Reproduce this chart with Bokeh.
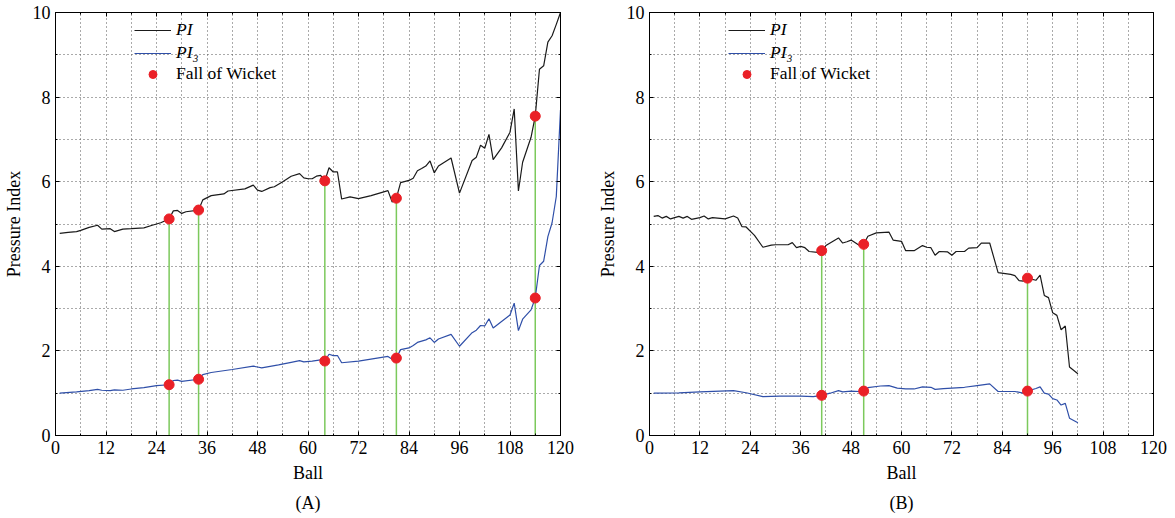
from bokeh.plotting import figure
from bokeh.models import (FixedTicker, Legend, LegendItem, LinearAxis, Title,
                          Range1d, ColumnDataSource)
from bokeh.layouts import row
from bokeh.embed import file_html
from bokeh.resources import INLINE

# ---------------- data ----------------
a_pi_ball = [1, 3, 5, 6, 8, 10, 11, 13, 14, 16, 18, 21, 23, 25, 27, 28, 29, 30, 31, 34,
             35, 37, 40, 41, 45, 47, 48, 49, 51, 52, 54, 56, 58, 59, 60, 61, 62, 63, 64,
             65, 66, 67, 68, 70, 72, 75, 79, 80, 81, 82, 84, 85, 86, 87, 88, 89, 90, 91,
             94, 96, 99, 100, 101, 102, 103, 104, 106, 108, 109, 110, 111, 113, 114, 115,
             116, 117, 118, 119, 120]
a_pi_val = [4.78, 4.80, 4.82, 4.85, 4.92, 4.97, 4.88, 4.89, 4.82, 4.88, 4.89, 4.91, 4.97,
            5.03, 5.12, 5.31, 5.32, 5.25, 5.29, 5.33, 5.57, 5.67, 5.71, 5.78, 5.83, 5.92,
            5.80, 5.77, 5.86, 5.88, 6.00, 6.13, 6.19, 6.09, 6.07, 6.07, 6.13, 6.15, 6.02,
            6.33, 6.23, 6.23, 5.59, 5.64, 5.60, 5.67, 5.79, 5.52, 5.61, 5.98, 6.03, 6.08,
            6.26, 6.31, 6.37, 6.49, 6.21, 6.37, 6.56, 5.73, 6.50, 6.58, 6.86, 6.79, 7.12,
            6.52, 6.80, 7.17, 7.72, 5.78, 6.46, 7.05, 7.55, 8.66, 8.74, 9.30, 9.45, 9.72,
            10.0]

a_pi3_ball = [1, 5, 8, 10, 11, 13, 14, 16, 18, 21, 24, 27, 28, 29, 30, 34, 35, 37, 42, 47,
              48, 49, 53, 56, 58, 59, 61, 63, 64, 65, 66, 67, 68, 72, 79, 80, 81, 82, 84,
              85, 86, 88, 89, 90, 91, 94, 96, 99, 100, 101, 102, 103, 104, 108, 109, 110,
              111, 113, 114, 115, 116, 117, 118, 119, 120]
a_pi3_val = [1.00, 1.03, 1.06, 1.09, 1.07, 1.06, 1.08, 1.07, 1.10, 1.13, 1.18, 1.20, 1.30,
             1.31, 1.28, 1.33, 1.44, 1.49, 1.56, 1.64, 1.62, 1.60, 1.67, 1.73, 1.77, 1.74,
             1.76, 1.79, 1.76, 1.92, 1.89, 1.89, 1.72, 1.76, 1.87, 1.80, 1.83, 2.03, 2.07,
             2.13, 2.20, 2.26, 2.31, 2.20, 2.28, 2.39, 2.11, 2.43, 2.49, 2.60, 2.59, 2.76,
             2.54, 2.85, 3.13, 2.48, 2.75, 2.97, 3.25, 4.02, 4.12, 4.70, 5.03, 5.65, 7.70]

a_wk_ball = [27, 34, 64, 81, 114]
a_wk_pi = [5.12, 5.33, 6.02, 5.61, 7.55]
a_wk_pi3 = [1.20, 1.33, 1.76, 1.83, 3.25]

b_pi_ball = [1, 2, 3, 4, 5, 7, 8, 9, 10, 12, 13, 14, 15, 18, 20, 21, 22, 23, 25, 27, 29,
             30, 33, 34, 35, 36, 37, 38, 40, 41, 42, 45, 46, 47, 48, 50, 51, 52, 54, 57,
             58, 60, 61, 63, 65, 66, 67, 68, 69, 71, 72, 73, 75, 76, 78, 79, 81, 83, 86,
             87, 88, 89, 90, 92, 93, 94, 95, 96, 97, 98, 99, 100, 102]
b_pi_val = [5.18, 5.20, 5.14, 5.18, 5.12, 5.18, 5.14, 5.18, 5.11, 5.15, 5.19, 5.12, 5.15,
            5.12, 5.19, 5.14, 4.94, 4.93, 4.73, 4.45, 4.50, 4.51, 4.51, 4.56, 4.44, 4.47,
            4.44, 4.35, 4.33, 4.37, 4.49, 4.67, 4.55, 4.58, 4.62, 4.49, 4.52, 4.71, 4.79,
            4.81, 4.62, 4.59, 4.37, 4.37, 4.49, 4.45, 4.44, 4.26, 4.35, 4.34, 4.26, 4.35,
            4.35, 4.43, 4.44, 4.55, 4.55, 3.85, 3.81, 3.78, 3.66, 3.65, 3.72, 3.67, 3.79,
            3.31, 3.26, 2.90, 2.84, 2.50, 2.59, 1.62, 1.46]

b_pi3_ball = [1, 7, 12, 20, 23, 27, 31, 36, 39, 41, 43, 45, 46, 48, 50, 51, 52, 55, 57, 59,
              61, 63, 65, 67, 68, 70, 75, 78, 81, 83, 87, 89, 90, 92, 93, 94, 95, 96, 97,
              98, 99, 100, 102]
b_pi3_val = [1.00, 1.01, 1.03, 1.06, 1.01, 0.92, 0.93, 0.93, 0.92, 0.95, 1.00, 1.06, 1.03,
             1.05, 1.04, 1.05, 1.13, 1.17, 1.18, 1.12, 1.10, 1.10, 1.15, 1.14, 1.09, 1.11,
             1.14, 1.18, 1.22, 1.04, 1.04, 1.00, 1.05, 1.11, 1.15, 1.00, 0.98, 0.87, 0.84,
             0.72, 0.76, 0.41, 0.30]

b_wk_ball = [41, 51, 90]
b_wk_pi = [4.37, 4.52, 3.72]
b_wk_pi3 = [0.95, 1.05, 1.05]

x_major = [0, 12, 24, 36, 48, 60, 72, 84, 96, 108, 120]
x_grid = [0, 6, 12, 18, 24, 30, 36, 42, 48, 54, 60, 66, 72, 78, 84, 90, 96, 102, 108, 114, 120]
y_major = [0, 2, 4, 6, 8, 10]
y_grid = [0, 1, 2, 3, 4, 5, 6, 7, 8, 9, 10]

legend_labels = ["PI", "PI\u2083", "Fall of Wicket"]
captions = ["(A)", "(B)"]

FONT = "'Liberation Serif', serif"
BLACK = "#1a1a1a"
BLUE = "#2f4fa8"
RED = "#ea2027"
GREEN = "#7cc95c"


def make_panel(pi_b, pi_v, pi3_b, pi3_v, wk_b, wk_pi, wk_pi3, caption,
               frame_width, left, right):
    p = figure(frame_width=frame_width, frame_height=423,
               x_range=Range1d(0, 120), y_range=Range1d(0, 10),
               output_backend="svg", toolbar_location=None,
               min_border_left=left, min_border_right=right,
               min_border_top=12, min_border_bottom=74,
               background_fill_color="white", border_fill_color="white")
    p.outline_line_color = "black"
    p.outline_line_width = 1

    # grids (dotted)
    p.xgrid.ticker = FixedTicker(ticks=x_grid)
    p.ygrid.ticker = FixedTicker(ticks=y_grid)
    for g in (p.xgrid[0], p.ygrid[0]):
        g.grid_line_color = "#555555"
        g.grid_line_dash = "1 3"
        g.grid_line_width = 1

    xt = FixedTicker(ticks=x_major, minor_ticks=x_grid)
    yt = FixedTicker(ticks=y_major, minor_ticks=y_grid)
    p.xaxis.ticker = xt
    p.yaxis.ticker = yt

    def style(ax, show):
        ax.axis_line_color = "black"
        ax.major_tick_in = 4
        ax.major_tick_out = 0
        ax.minor_tick_in = 2
        ax.minor_tick_out = 0
        ax.major_tick_line_color = "black"
        ax.minor_tick_line_color = "black"
        if show:
            ax.major_label_text_font = FONT
            ax.major_label_text_font_size = "18px"
            ax.major_label_text_color = "black"
            ax.major_label_standoff = 5
            ax.axis_label_text_font = FONT
            ax.axis_label_text_font_size = "18px"
            ax.axis_label_text_font_style = "normal"
            ax.axis_label_text_color = "black"
            ax.axis_label_standoff = 6
        else:
            ax.major_label_text_color = None
            ax.major_label_text_font_size = "1px"
            ax.major_label_standoff = 0

    style(p.xaxis[0], True)
    style(p.yaxis[0], True)
    p.xaxis.axis_label = "Ball"
    p.yaxis.axis_label = "Pressure Index"
    p.yaxis[0].axis_label_standoff = 6

    top = LinearAxis(ticker=xt)
    style(top, False)
    p.add_layout(top, "above")
    rgt = LinearAxis(ticker=yt)
    style(rgt, False)
    p.add_layout(rgt, "right")

    # wicket verticals
    wsrc = ColumnDataSource(dict(x=wk_b, y0=[0] * len(wk_b), y1=wk_pi))
    p.segment(x0="x", y0="y0", x1="x", y1="y1", source=wsrc,
              line_color=GREEN, line_width=1.5)

    l1 = p.line(pi_b, pi_v, line_color=BLACK, line_width=1.2)
    l2 = p.line(pi3_b, pi3_v, line_color=BLUE, line_width=1.2)
    s1 = p.scatter(wk_b + wk_b, wk_pi + wk_pi3, size=10, fill_color=RED,
                   line_color=RED)

    leg1 = Legend(items=[LegendItem(label=legend_labels[0], renderers=[l1]),
                         LegendItem(label=legend_labels[1], renderers=[l2])],
                  location=(79, 372))
    leg2 = Legend(items=[LegendItem(label=legend_labels[2], renderers=[s1])],
                  location=(79, 351))
    for lg, st in ((leg1, "italic"), (leg2, "normal")):
        lg.label_text_font = FONT
        lg.label_text_font_size = "17.5px"
        lg.label_text_font_style = st
        lg.label_text_color = "black"
        lg.glyph_width = 37
        lg.glyph_height = 20
        lg.label_height = 20
        lg.label_standoff = 5
        lg.spacing = 2
        lg.padding = 0
        lg.margin = 0
        lg.border_line_color = None
        lg.background_fill_alpha = 0
        p.add_layout(lg)

    cap = Title(text=caption, align="center", text_font=FONT,
                text_font_size="18px", text_font_style="normal",
                text_color="black", standoff=10)
    p.add_layout(cap, "below")
    return p


p1 = make_panel(a_pi_ball, a_pi_val, a_pi3_ball, a_pi3_val,
                a_wk_ball, a_wk_pi, a_wk_pi3, captions[0], 505, 50, 34)
p2 = make_panel(b_pi_ball, b_pi_val, b_pi3_ball, b_pi3_val,
                b_wk_ball, b_wk_pi, b_wk_pi3, captions[1], 504, 52, 14)

layout = row(p1, p2)
open("out.html", "w").write(file_html(layout, INLINE))
